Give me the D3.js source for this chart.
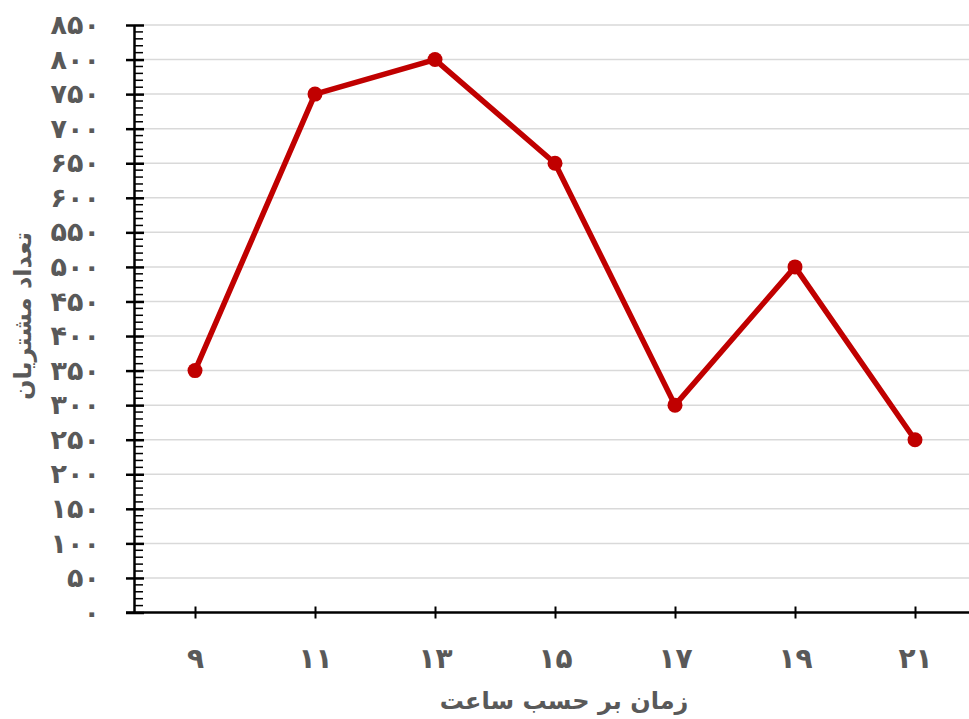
<!DOCTYPE html>
<html>
<head>
<meta charset="utf-8">
<script src="https://cdn.jsdelivr.net/npm/d3@7"></script>
<style>
  html, body { margin: 0; padding: 0; background: #fff; }
  svg { display: block; }
  .lbl { font-family: "DejaVu Sans", "Noto Sans", sans-serif; font-weight: bold; fill: #595959; }
</style>
</head>
<body>
<svg id="chart" width="969" height="719"></svg>
<script>
// Customers per hour of the day
const hours = [9, 11, 13, 15, 17, 19, 21];
const customers = [350, 750, 800, 650, 300, 500, 250];
const yTicks = d3.range(0, 851, 50);
const xTitle = "زمان بر حسب ساعت";
const yTitle = "تعداد مشتریان";

const faDigits = "۰۱۲۳۴۵۶۷۸۹";
const toFa = n => String(n).replace(/\d/g, d => faDigits[+d]);

const svg = d3.select("#chart");
const plotLeft = 134, plotRight = 969, plotTop = 25, plotBottom = 612.5;

const x = d3.scalePoint().domain(hours).range([195, 915]);
const y = d3.scaleLinear().domain([0, 850]).range([plotBottom, plotTop]);

// horizontal gridlines
svg.append("g").selectAll("line").data(yTicks.filter(v => v > 0)).join("line")
  .attr("x1", plotLeft).attr("x2", plotRight)
  .attr("y1", d => y(d)).attr("y2", d => y(d))
  .attr("stroke", "#d9d9d9").attr("stroke-width", 1.5);

// minor y ticks every 10
svg.append("g").selectAll("line").data(d3.range(0, 851, 10).filter(v => v % 50 !== 0)).join("line")
  .attr("x1", plotLeft).attr("x2", plotLeft + 9)
  .attr("y1", d => y(d)).attr("y2", d => y(d))
  .attr("stroke", "#000").attr("stroke-width", 1.5);

// y axis
const yAxis = d3.axisLeft(y).tickValues(yTicks).tickSizeInner(0).tickSizeOuter(0).tickFormat(toFa).tickPadding(34);
const gy = svg.append("g").attr("transform", `translate(${plotLeft},0)`).call(yAxis);
gy.select(".domain").attr("stroke", "#000").attr("stroke-width", 2.5);
gy.selectAll(".tick line").attr("x1", -8).attr("x2", 10).attr("stroke", "#000").attr("stroke-width", 2.5);
gy.selectAll(".tick text").attr("class", "lbl").attr("font-size", 27).attr("dy", "0.32em");

// x axis
const xAxis = d3.axisBottom(x).tickSizeInner(0).tickSizeOuter(0).tickFormat(toFa).tickPadding(34);
const gx = svg.append("g").attr("transform", `translate(0,${plotBottom})`).call(xAxis);
gx.select(".domain").attr("d", `M${plotLeft - 8},0H${plotRight}`).attr("stroke", "#000").attr("stroke-width", 2.5);
gx.selectAll(".tick line").attr("y1", -6).attr("y2", 6).attr("stroke", "#000").attr("stroke-width", 2);
gx.selectAll(".tick text").attr("class", "lbl").attr("font-size", 28).attr("dy", "0.35em").attr("y", 46);

// data line
const pts = hours.map((h, i) => [h, customers[i]]);
svg.append("path").datum(pts)
  .attr("fill", "none").attr("stroke", "#c00000").attr("stroke-width", 5.5)
  .attr("stroke-linejoin", "round")
  .attr("d", d3.line().x(d => x(d[0])).y(d => y(d[1])));
svg.append("g").selectAll("circle").data(pts).join("circle")
  .attr("cx", d => x(d[0])).attr("cy", d => y(d[1])).attr("r", 7.5)
  .attr("fill", "#c00000");

// axis titles
svg.append("text").attr("class", "lbl").attr("font-size", 24)
  .attr("x", 564).attr("y", 702).attr("text-anchor", "middle").attr("dominant-baseline", "middle")
  .text(xTitle);
svg.append("text").attr("class", "lbl").attr("font-size", 24)
  .attr("transform", "translate(24,316) rotate(-90)")
  .attr("text-anchor", "middle").attr("dominant-baseline", "middle")
  .text(yTitle);
</script>
</body>
</html>
